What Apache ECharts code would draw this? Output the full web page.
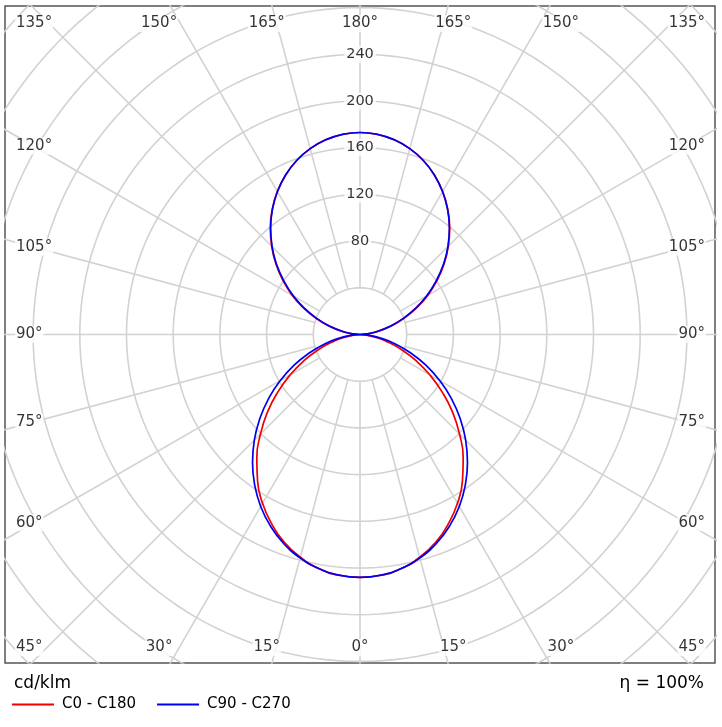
<!DOCTYPE html>
<html><head><meta charset="utf-8">
<script src="https://cdn.jsdelivr.net/npm/echarts@6/dist/echarts.min.js"></script>
<style>html,body{margin:0;padding:0;background:#fff}#c{width:722px;height:727px}</style>
</head><body><div id="c"></div>
<script>
// ---- data (cd/klm), gamma measured from nadir ----
const gammaDeg = [0,5,10,15,20,25,30,35,40,45,50,55,60,65,70,75,80,85,90,95,100,105,110,115,120,125,130,135,140,145,150,155,160,165,170,175,180];
const c0c180  = [208,207,203.5,197.5,189.5,179,167,153,137.5,120.5,103.5,86,69,53,38,24.5,13,4.5,0,6,15.5,27,39.5,53,67,80.5,94,107,119.5,131,141.5,150.8,158.6,164.8,169.3,172,173];
const c90c270 = [208,206.9,203.6,198.1,190.7,181.2,170.1,157.3,143.2,128,112,95.5,78.8,62.3,46.3,31.4,17.9,6.8,0,5.7,14.9,26.1,38.5,51.8,65.6,79.4,93.2,106.5,119.1,130.8,141.4,150.7,158.6,164.8,169.3,172.1,173];
const seriesNames = ['C0 - C180', 'C90 - C270'];
const radialTicks = [80,120,160,200,240];
const gridRadii = [40,80,120,160,200,240,280,320,360,400,440];
const angleTicks = [0,15,30,45,60,75,90,105,120,135,150,165,180];
const unitText = 'cd/klm';
const etaText = 'η = 100%';

// ---- layout ----
const FONT = 'DejaVu Sans';
const G = {left:5, top:6, width:710, height:657};
const K = 1.1675; // px per cd/klm
const xMax = (G.width/2)/K, yMax = (G.height/2)/K;
const rad = d => d*Math.PI/180;

function planePath(vals){
  const pts = [];
  for (let i=0;i<gammaDeg.length;i++){ const g=rad(gammaDeg[i]); pts.push([vals[i]*Math.sin(g), -vals[i]*Math.cos(g)]); }
  for (let i=gammaDeg.length-2;i>=0;i--){ const g=rad(gammaDeg[i]); pts.push([-vals[i]*Math.sin(g), -vals[i]*Math.cos(g)]); }
  return pts;
}

const series = [];
const gridStyle = {color:'#d2d2d2', width:1.6};
gridRadii.forEach(r=>{
  const pts=[]; for(let a=0;a<=360;a+=2){ pts.push([r*Math.sin(rad(a)), r*Math.cos(rad(a))]); }
  series.push({type:'line', data:pts, showSymbol:false, silent:true, lineStyle:gridStyle, z:1, animation:false});
});
for (let a=0;a<360;a+=15){
  const r0=40, r1=700;
  series.push({type:'line', data:[[r0*Math.sin(rad(a)), r0*Math.cos(rad(a))],[r1*Math.sin(rad(a)), r1*Math.cos(rad(a))]], showSymbol:false, silent:true, lineStyle:gridStyle, z:1, animation:false});
}
const colors = ['#f00000','#0000f0'];
[c0c180, c90c270].forEach((vals,i)=>{
  series.push({type:'line', name:seriesNames[i], data:planePath(vals), showSymbol:false, smooth:0.5, color:colors[i], lineStyle:{color:colors[i], width:1.7}, z:3, animation:false});
});

// angle labels
const lab = [];
function pushLab(text, dxPx, dyPx, align){
  lab.push({value:[dxPx/K, -dyPx/K], label:{formatter:text, align:align}});
}
angleTicks.forEach(a=>{
  const t = a+'°';
  if (a===0) { pushLab(t,0,313,'center'); return; }
  if (a===180) { pushLab(t,0,-311,'center'); return; }
  if (a<45) { const dx=348*Math.tan(rad(a)); pushLab(t,-dx,313,'center'); pushLab(t,dx,313,'center'); return; }
  if (a>135) { const dx=348*Math.tan(rad(180-a)); pushLab(t,-dx,-311,'center'); pushLab(t,dx,-311,'center'); return; }
  let dy;
  if (a===45) dy=313; else if (a===135) dy=-311; else dy=326/Math.tan(rad(a));
  pushLab(t,-345,dy,'left'); pushLab(t,346,dy,'right');
});
series.push({type:'scatter', data:lab, symbolSize:0, silent:true, z:6, animation:false,
  label:{show:true, position:'inside', verticalAlign:'middle', fontFamily:FONT, fontSize:15, color:'#000', backgroundColor:'#fff', padding:[1,1]}});
series.push({type:'scatter', data:radialTicks.map(r=>({value:[0,r], label:{formatter:String(r)}})), symbolSize:0, silent:true, z:6, animation:false,
  label:{show:true, position:'inside', verticalAlign:'middle', align:'center', fontFamily:FONT, fontSize:14.5, color:'#000', backgroundColor:'#fff', padding:[1,2]}});

const chart = echarts.init(document.getElementById('c'));
chart.setOption({
  backgroundColor:'#fff',
  animation:false,
  grid:{left:G.left, top:G.top, width:G.width, height:G.height, show:true, borderColor:'#555', borderWidth:1.5, backgroundColor:'transparent'},
  xAxis:{type:'value', min:-xMax, max:xMax, show:false},
  yAxis:{type:'value', min:-yMax, max:yMax, show:false},
  title:[
    {text:unitText, left:14, top:675, padding:0, textStyle:{fontFamily:FONT, fontSize:17, fontWeight:'normal', color:'#000'}},
    {text:etaText, right:18, top:675, padding:0, textStyle:{fontFamily:FONT, fontSize:17, fontWeight:'normal', color:'#000'}}
  ],
  legend:{data:seriesNames, left:12, top:697, padding:0, icon:'rect', itemWidth:42, itemHeight:2, itemGap:21,
    textStyle:{fontFamily:FONT, fontSize:15, color:'#000', padding:[0,0,0,3]}},
  series:series
});
</script></body></html>
